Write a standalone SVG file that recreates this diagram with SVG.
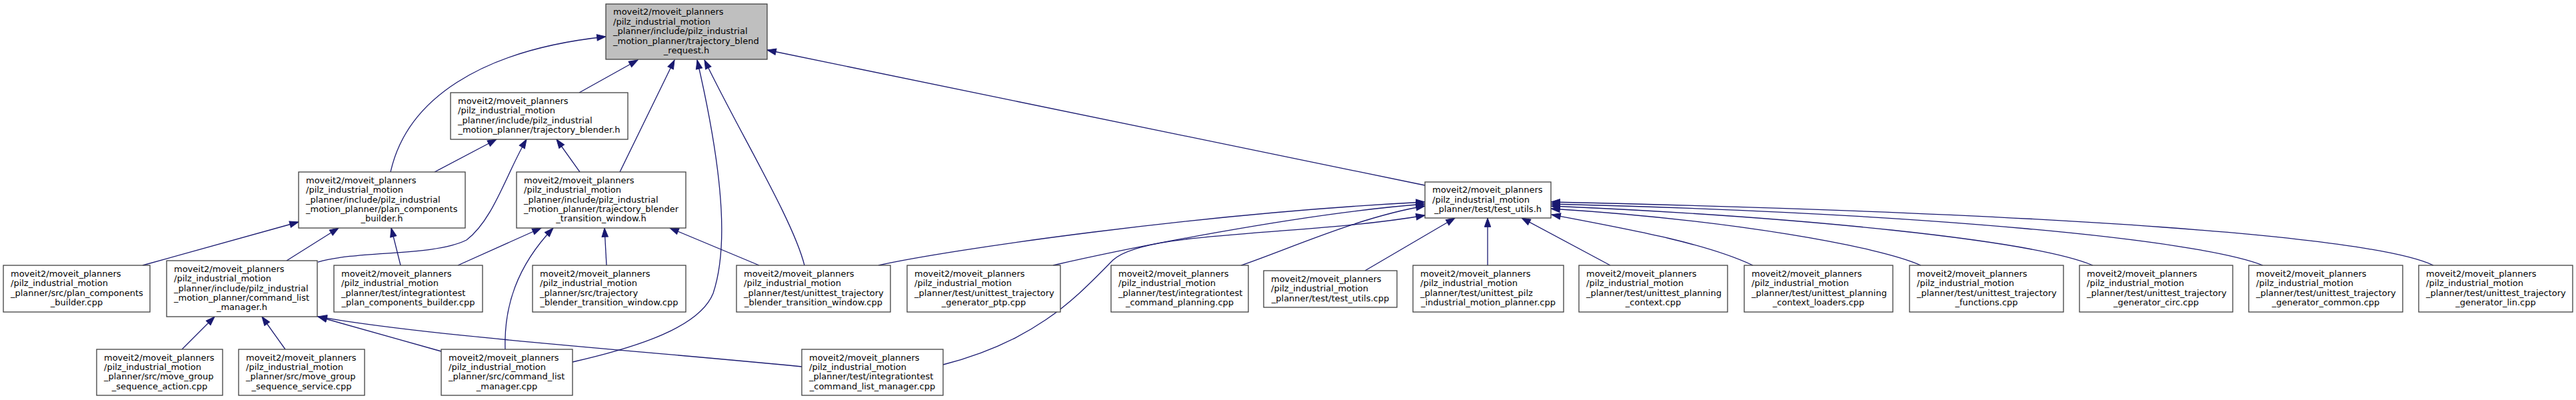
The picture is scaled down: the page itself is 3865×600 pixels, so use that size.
<svg xmlns="http://www.w3.org/2000/svg" width="3865" height="600" viewBox="0 0 3865 600">
<style>
.box{fill:#ffffff;stroke:#404040;stroke-width:1.3}
.main{fill:#bfbfbf;stroke:#404040;stroke-width:1.3}
.t{font-family:"DejaVu Sans","Liberation Sans",sans-serif;font-size:13px;fill:#000000}
.c{text-anchor:middle}
.e{fill:none;stroke:#191970;stroke-width:1.3;marker-end:url(#ah)}
</style>
<defs>
<marker id="ah" markerWidth="14" markerHeight="10" refX="13.3" refY="4.7" orient="auto" markerUnits="userSpaceOnUse" overflow="visible">
<path d="M0,0 L13.3,4.7 L0,9.4 z" fill="#191970" stroke="#191970" stroke-width="1"/>
</marker>
</defs>
<rect x="0" y="0" width="3865" height="600" fill="#ffffff"/>

<g id="edges">
<path class="e" d="M869,139 L957,90"/>
<path class="e" d="M586,258 C610,150 720,75 909,55"/>
<path class="e" d="M930,258 L1012,90"/>
<path class="e" d="M859,543 C960,520 1050,490 1070,440 C1090,380 1090,280 1046,90"/>
<path class="e" d="M1207,398 C1190,330 1110,200 1057,90"/>
<path class="e" d="M2138,278 L1151,75"/>
<path class="e" d="M652,258 L745,209"/>
<path class="e" d="M477,393 C540,375 650,385 700,360 C740,330 760,260 790,209"/>
<path class="e" d="M870,258 L835,209"/>
<path class="e" d="M214,398 L448,333"/>
<path class="e" d="M430,391 L508,342"/>
<path class="e" d="M601,398 L587,342"/>
<path class="e" d="M687,398 L812,342"/>
<path class="e" d="M758,524 C756,460 775,400 830,342"/>
<path class="e" d="M910,398 L907,342"/>
<path class="e" d="M1139,398 L1005,342"/>
<path class="e" d="M273,524 L322,475"/>
<path class="e" d="M428,524 L393,475"/>
<path class="e" d="M662,527 L477,475"/>
<path class="e" d="M1203,550 C950,525 650,505 477,475"/>
<path class="e" d="M1318,398 C1420,375 1800,320 2138,303"/>
<path class="e" d="M1580,398 C1680,375 1950,320 2138,306"/>
<path class="e" d="M1862,398 C1930,375 2040,325 2138,309"/>
<path class="e" d="M1415,547 C1560,510 1620,440 1670,390 C1720,345 1950,355 2138,323"/>
<path class="e" d="M2048,406 L2183,327"/>
<path class="e" d="M2232,398 L2232,327"/>
<path class="e" d="M2416,398 L2283,327"/>
<path class="e" d="M2630,398 C2560,365 2450,345 2328,322"/>
<path class="e" d="M2882,398 C2820,370 2600,330 2327,313"/>
<path class="e" d="M3140,398 C3050,360 2700,325 2327,309"/>
<path class="e" d="M3395,398 C3300,360 2900,320 2327,306"/>
<path class="e" d="M3651,398 C3560,355 3100,320 2327,303"/>
</g>

<g id="node1">
<rect class="main" x="909" y="6" width="242" height="83"/>
<text class="t"><tspan x="920" y="22.3">moveit2/moveit_planners</tspan><tspan x="920" y="36.7">/pilz_industrial_motion</tspan><tspan x="920" y="51.1">_planner/include/pilz_industrial</tspan><tspan x="920" y="65.5">_motion_planner/trajectory_blend</tspan><tspan class="c" x="1030" y="79.9">_request.h</tspan></text>
</g>

<g id="node2">
<rect class="box" x="676" y="139" width="266" height="70"/>
<text class="t"><tspan x="687" y="156">moveit2/moveit_planners</tspan><tspan x="687" y="170.4">/pilz_industrial_motion</tspan><tspan x="687" y="184.8">_planner/include/pilz_industrial</tspan><tspan class="c" x="809" y="199.2">_motion_planner/trajectory_blender.h</tspan></text>
</g>

<g id="node3">
<rect class="box" x="448" y="258" width="250" height="84"/>
<text class="t"><tspan x="459" y="274.8">moveit2/moveit_planners</tspan><tspan x="459" y="289.2">/pilz_industrial_motion</tspan><tspan x="459" y="303.6">_planner/include/pilz_industrial</tspan><tspan x="459" y="318">_motion_planner/plan_components</tspan><tspan class="c" x="573" y="332.4">_builder.h</tspan></text>
</g>

<g id="node4">
<rect class="box" x="775" y="258" width="254" height="84"/>
<text class="t"><tspan x="786" y="274.8">moveit2/moveit_planners</tspan><tspan x="786" y="289.2">/pilz_industrial_motion</tspan><tspan x="786" y="303.6">_planner/include/pilz_industrial</tspan><tspan x="786" y="318">_motion_planner/trajectory_blender</tspan><tspan class="c" x="902" y="332.4">_transition_window.h</tspan></text>
</g>

<g id="node5">
<rect class="box" x="2138" y="273" width="189" height="54"/>
<text class="t"><tspan x="2149" y="289.2">moveit2/moveit_planners</tspan><tspan x="2149" y="303.6">/pilz_industrial_motion</tspan><tspan class="c" x="2232.5" y="318">_planner/test/test_utils.h</tspan></text>
</g>

<g id="node6">
<rect class="box" x="5" y="398" width="220" height="70"/>
<text class="t"><tspan x="16" y="415">moveit2/moveit_planners</tspan><tspan x="16" y="429.4">/pilz_industrial_motion</tspan><tspan x="16" y="443.8">_planner/src/plan_components</tspan><tspan class="c" x="115" y="458.2">_builder.cpp</tspan></text>
</g>

<g id="node7">
<rect class="box" x="250" y="391" width="226" height="84"/>
<text class="t"><tspan x="261" y="407.8">moveit2/moveit_planners</tspan><tspan x="261" y="422.2">/pilz_industrial_motion</tspan><tspan x="261" y="436.6">_planner/include/pilz_industrial</tspan><tspan x="261" y="451">_motion_planner/command_list</tspan><tspan class="c" x="363" y="465.4">_manager.h</tspan></text>
</g>

<g id="node8">
<rect class="box" x="501" y="398" width="223" height="70"/>
<text class="t"><tspan x="512" y="415">moveit2/moveit_planners</tspan><tspan x="512" y="429.4">/pilz_industrial_motion</tspan><tspan x="512" y="443.8">_planner/test/integrationtest</tspan><tspan class="c" x="612.5" y="458.2">_plan_components_builder.cpp</tspan></text>
</g>

<g id="node9">
<rect class="box" x="799" y="398" width="230" height="70"/>
<text class="t"><tspan x="810" y="415">moveit2/moveit_planners</tspan><tspan x="810" y="429.4">/pilz_industrial_motion</tspan><tspan x="810" y="443.8">_planner/src/trajectory</tspan><tspan class="c" x="914" y="458.2">_blender_transition_window.cpp</tspan></text>
</g>

<g id="node10">
<rect class="box" x="1105" y="398" width="231" height="70"/>
<text class="t"><tspan x="1116" y="415">moveit2/moveit_planners</tspan><tspan x="1116" y="429.4">/pilz_industrial_motion</tspan><tspan x="1116" y="443.8">_planner/test/unittest_trajectory</tspan><tspan class="c" x="1220.5" y="458.2">_blender_transition_window.cpp</tspan></text>
</g>

<g id="node11">
<rect class="box" x="1361" y="398" width="230" height="70"/>
<text class="t"><tspan x="1372" y="415">moveit2/moveit_planners</tspan><tspan x="1372" y="429.4">/pilz_industrial_motion</tspan><tspan x="1372" y="443.8">_planner/test/unittest_trajectory</tspan><tspan class="c" x="1476" y="458.2">_generator_ptp.cpp</tspan></text>
</g>

<g id="node12">
<rect class="box" x="1667" y="398" width="206" height="70"/>
<text class="t"><tspan x="1678" y="415">moveit2/moveit_planners</tspan><tspan x="1678" y="429.4">/pilz_industrial_motion</tspan><tspan x="1678" y="443.8">_planner/test/integrationtest</tspan><tspan class="c" x="1770" y="458.2">_command_planning.cpp</tspan></text>
</g>

<g id="node13">
<rect class="box" x="1896" y="406" width="200" height="55"/>
<text class="t"><tspan x="1907" y="422.7">moveit2/moveit_planners</tspan><tspan x="1907" y="437.1">/pilz_industrial_motion</tspan><tspan class="c" x="1996" y="451.5">_planner/test/test_utils.cpp</tspan></text>
</g>

<g id="node14">
<rect class="box" x="2120" y="398" width="226" height="70"/>
<text class="t"><tspan x="2131" y="415">moveit2/moveit_planners</tspan><tspan x="2131" y="429.4">/pilz_industrial_motion</tspan><tspan x="2131" y="443.8">_planner/test/unittest_pilz</tspan><tspan class="c" x="2233" y="458.2">_industrial_motion_planner.cpp</tspan></text>
</g>

<g id="node15">
<rect class="box" x="2369" y="398" width="223" height="70"/>
<text class="t"><tspan x="2380" y="415">moveit2/moveit_planners</tspan><tspan x="2380" y="429.4">/pilz_industrial_motion</tspan><tspan x="2380" y="443.8">_planner/test/unittest_planning</tspan><tspan class="c" x="2480.5" y="458.2">_context.cpp</tspan></text>
</g>

<g id="node16">
<rect class="box" x="2617" y="398" width="223" height="70"/>
<text class="t"><tspan x="2628" y="415">moveit2/moveit_planners</tspan><tspan x="2628" y="429.4">/pilz_industrial_motion</tspan><tspan x="2628" y="443.8">_planner/test/unittest_planning</tspan><tspan class="c" x="2728.5" y="458.2">_context_loaders.cpp</tspan></text>
</g>

<g id="node17">
<rect class="box" x="2865" y="398" width="231" height="70"/>
<text class="t"><tspan x="2876" y="415">moveit2/moveit_planners</tspan><tspan x="2876" y="429.4">/pilz_industrial_motion</tspan><tspan x="2876" y="443.8">_planner/test/unittest_trajectory</tspan><tspan class="c" x="2980.5" y="458.2">_functions.cpp</tspan></text>
</g>

<g id="node18">
<rect class="box" x="3120" y="398" width="230" height="70"/>
<text class="t"><tspan x="3131" y="415">moveit2/moveit_planners</tspan><tspan x="3131" y="429.4">/pilz_industrial_motion</tspan><tspan x="3131" y="443.8">_planner/test/unittest_trajectory</tspan><tspan class="c" x="3235" y="458.2">_generator_circ.cpp</tspan></text>
</g>

<g id="node19">
<rect class="box" x="3374" y="398" width="231" height="70"/>
<text class="t"><tspan x="3385" y="415">moveit2/moveit_planners</tspan><tspan x="3385" y="429.4">/pilz_industrial_motion</tspan><tspan x="3385" y="443.8">_planner/test/unittest_trajectory</tspan><tspan class="c" x="3489.5" y="458.2">_generator_common.cpp</tspan></text>
</g>

<g id="node20">
<rect class="box" x="3629" y="398" width="231" height="70"/>
<text class="t"><tspan x="3640" y="415">moveit2/moveit_planners</tspan><tspan x="3640" y="429.4">/pilz_industrial_motion</tspan><tspan x="3640" y="443.8">_planner/test/unittest_trajectory</tspan><tspan class="c" x="3744.5" y="458.2">_generator_lin.cpp</tspan></text>
</g>

<g id="node21">
<rect class="box" x="145" y="524" width="189" height="69"/>
<text class="t"><tspan x="156" y="540.5">moveit2/moveit_planners</tspan><tspan x="156" y="554.9">/pilz_industrial_motion</tspan><tspan x="156" y="569.3">_planner/src/move_group</tspan><tspan class="c" x="239.5" y="583.7">_sequence_action.cpp</tspan></text>
</g>

<g id="node22">
<rect class="box" x="358" y="524" width="189" height="69"/>
<text class="t"><tspan x="369" y="540.5">moveit2/moveit_planners</tspan><tspan x="369" y="554.9">/pilz_industrial_motion</tspan><tspan x="369" y="569.3">_planner/src/move_group</tspan><tspan class="c" x="452.5" y="583.7">_sequence_service.cpp</tspan></text>
</g>

<g id="node23">
<rect class="box" x="662" y="524" width="197" height="69"/>
<text class="t"><tspan x="673" y="540.5">moveit2/moveit_planners</tspan><tspan x="673" y="554.9">/pilz_industrial_motion</tspan><tspan x="673" y="569.3">_planner/src/command_list</tspan><tspan class="c" x="760.5" y="583.7">_manager.cpp</tspan></text>
</g>

<g id="node24">
<rect class="box" x="1203" y="524" width="212" height="69"/>
<text class="t"><tspan x="1214" y="540.5">moveit2/moveit_planners</tspan><tspan x="1214" y="554.9">/pilz_industrial_motion</tspan><tspan x="1214" y="569.3">_planner/test/integrationtest</tspan><tspan class="c" x="1309" y="583.7">_command_list_manager.cpp</tspan></text>
</g>
</svg>
